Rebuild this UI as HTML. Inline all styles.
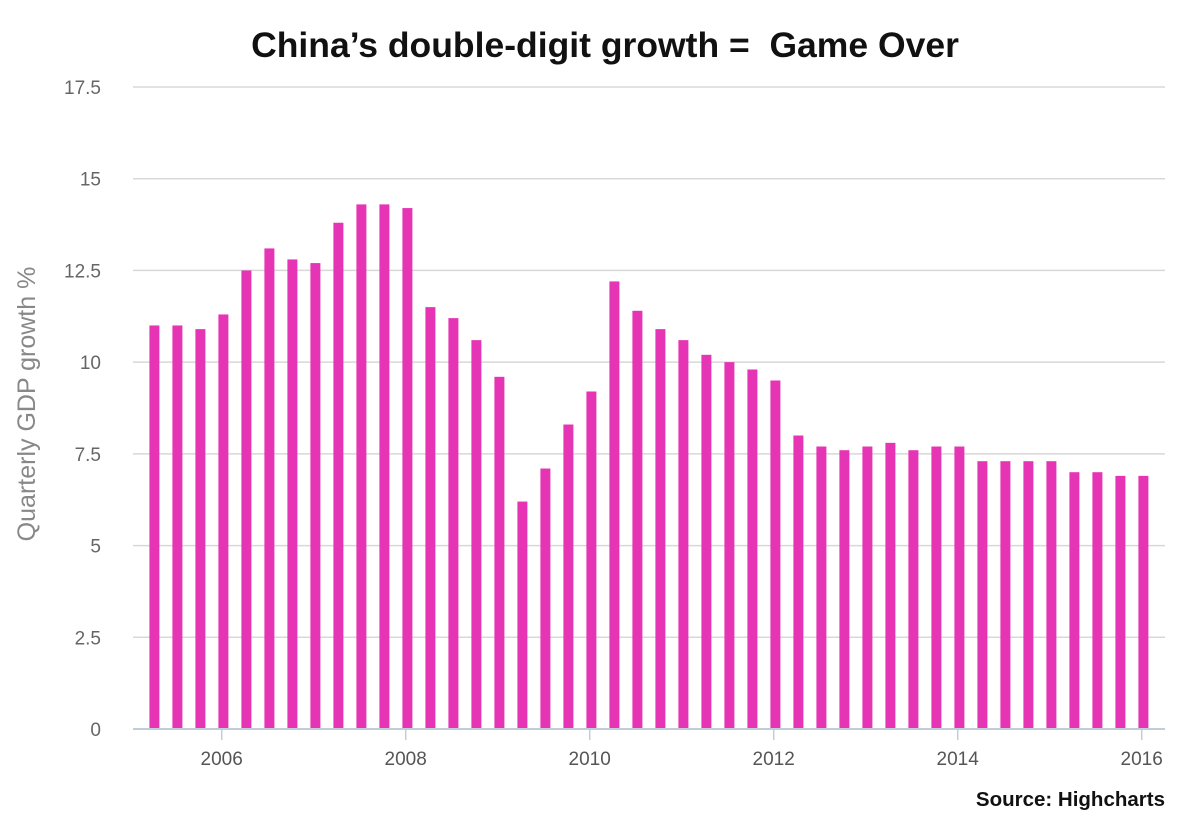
<!DOCTYPE html>
<html><head><meta charset="utf-8"><style>
body{margin:0;background:#fff;}
svg{display:block;font-family:"Liberation Sans",sans-serif;}
</style></head><body>
<svg id="chart" width="1185" height="827">
<text x="605" y="57" text-anchor="middle" font-size="35.5" font-weight="bold" fill="#111" style="white-space:pre" xml:space="preserve">China’s double-digit growth =  Game Over</text>
<g id="grid"></g><g id="bars"></g><g id="xaxis"></g>
<text transform="translate(35,404) rotate(-90)" text-anchor="middle" font-size="25" fill="#888">Quarterly GDP growth %</text>
<text x="1165" y="806" text-anchor="end" font-size="20.5" font-weight="bold" fill="#111">Source: Highcharts</text>
</svg>
<script>
const values = [11.0,11.0,10.9,11.3,12.5,13.1,12.8,12.7,13.8,14.3,14.3,14.2,11.5,11.2,10.6,9.6,6.2,7.1,8.3,9.2,12.2,11.4,10.9,10.6,10.2,10.0,9.8,9.5,8.0,7.7,7.6,7.7,7.8,7.6,7.7,7.7,7.3,7.3,7.3,7.3,7.0,7.0,6.9,6.9];
const startYear = 2005.25;
const yTicks = [0,2.5,5,7.5,10,12.5,15,17.5];
const yTickLabels = ["0","2.5","5","7.5","10","12.5","15","17.5"];
const xTicks = [2006,2008,2010,2012,2014,2016];
const NS="http://www.w3.org/2000/svg";
const X0=133,X1=1165;
function y(v){return 729-v*(642/17.5);}
function x(t){return 221.7+(t-2006)*92;}
const grid=document.getElementById('grid'),bars=document.getElementById('bars'),xa=document.getElementById('xaxis');
yTicks.forEach((v,i)=>{
  if(v>0){const l=document.createElementNS(NS,'line');
  l.setAttribute('x1',X0);l.setAttribute('x2',X1);l.setAttribute('y1',y(v));l.setAttribute('y2',y(v));
  l.setAttribute('stroke','#d8d8d8');l.setAttribute('stroke-width','1.5');
  
  
  grid.appendChild(l);}
  const t=document.createElementNS(NS,'text');
  t.setAttribute('x',101);t.setAttribute('y',y(v)+7);t.setAttribute('text-anchor','end');
  t.setAttribute('font-size','19');t.setAttribute('fill','#666');t.textContent=yTickLabels[i];
  
  
  grid.appendChild(t);
});
values.forEach((v,i)=>{
  const cx=x(startYear+i*0.25)+1.7;
  const r=document.createElementNS(NS,'rect');
  r.setAttribute('x',cx-5);r.setAttribute('width',10);r.setAttribute('y',y(v));r.setAttribute('height',729-y(v));
  r.setAttribute('fill','#e535b5');
  
  
  bars.appendChild(r);
});
const ax=document.createElementNS(NS,'line');
ax.setAttribute('x1',X0);ax.setAttribute('x2',X1);ax.setAttribute('y1',729);ax.setAttribute('y2',729);
ax.setAttribute('stroke','#c0ccd8');ax.setAttribute('stroke-width','2');


xa.appendChild(ax);
xTicks.forEach(yr=>{
  const l=document.createElementNS(NS,'line');
  l.setAttribute('x1',x(yr));l.setAttribute('x2',x(yr));l.setAttribute('y1',729);l.setAttribute('y2',740);
  l.setAttribute('stroke','#c0ccd8');l.setAttribute('stroke-width','1.5');
  
  
  xa.appendChild(l);
  const t=document.createElementNS(NS,'text');
  t.setAttribute('x',x(yr));t.setAttribute('y',765);t.setAttribute('text-anchor','middle');
  t.setAttribute('font-size','19');t.setAttribute('fill','#555');t.textContent=yr;
  
  
  xa.appendChild(t);
});
</script>
</body></html>
